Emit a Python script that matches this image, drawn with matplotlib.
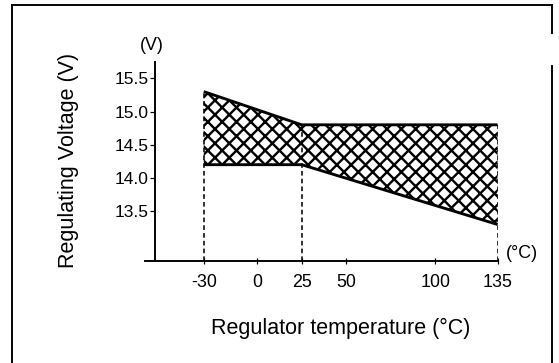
import matplotlib
matplotlib.use("Agg")
import matplotlib.pyplot as plt
from matplotlib.lines import Line2D

# regulating voltage band vs regulator temperature
temps = [-30, 25, 135]
upper_v = [15.3, 14.8, 14.8]
lower_v = [14.2, 14.2, 13.3]

x_ticks = [-30, 0, 25, 50, 100, 135]
y_ticks = [13.5, 14.0, 14.5, 15.0, 15.5]
y_tick_labels = ["13.5", "14.0", "14.5", "15.0", "15.5"]

plt.rcParams['font.family'] = ['Liberation Sans', 'DejaVu Sans']
plt.rcParams['hatch.linewidth'] = 2.0

DPI = 86
fig = plt.figure(figsize=(559 / DPI, 363 / DPI), dpi=DPI)
ax = fig.add_axes([0.2594, 0.281, 0.6306, 0.549])

ax.set_xlim(-63, 135)
ax.set_ylim(12.75, 15.75)

# cross-hatched band between the limits
ax.fill_between(temps, lower_v, upper_v, facecolor='none', edgecolor='black',
                hatch='xx', linewidth=0)
ax.plot(temps, upper_v, color='black', lw=2.4, solid_capstyle='butt')
ax.plot(temps, lower_v, color='black', lw=2.4, solid_capstyle='butt')

# dashed drop lines down to the temperature axis
for t, top in zip(temps, upper_v):
    ax.plot([t, t], [12.75, top], color='black', lw=1.3, linestyle=(0, (3, 2)))

for side in ['top', 'right']:
    ax.spines[side].set_visible(False)
ax.spines['left'].set_position(('data', -57.6))
ax.spines['left'].set_linewidth(1.6)
ax.spines['bottom'].set_linewidth(1.6)

ax.set_xticks(x_ticks)
ax.set_xticklabels([str(v) for v in x_ticks])
ax.set_yticks(y_ticks)
ax.set_yticklabels(y_tick_labels)
ax.tick_params(axis='x', direction='inout', length=5, width=1, pad=8, labelsize=15)
ax.tick_params(axis='y', direction='out', length=4, width=1, pad=1, labelsize=14.5)

ax.set_xlabel('Regulator temperature (°C)', fontsize=18)
ax.xaxis.set_label_coords(0.556, -0.336)
ax.xaxis.label.set_va('center')
ax.set_ylabel('Regulating Voltage (V)', fontsize=18)
ax.yaxis.set_label_coords(-0.218, 0.507)
ax.yaxis.label.set_va('center')

fig.text(152 / 559, 1 - 46 / 363, '(V)', fontsize=15, ha='center', va='center')
fig.text(522 / 559, 1 - 253 / 363, '(°C)', fontsize=15, ha='center', va='center')

# outer frame, open on the upper right edge
frame_kw = dict(color='black', lw=1.6, transform=fig.transFigure)
fig.add_artist(Line2D([0.0215, 0.0215], [0.0, 0.986], **frame_kw))
fig.add_artist(Line2D([0.0215, 0.9875], [0.986, 0.986], **frame_kw))
fig.add_artist(Line2D([0.9875, 0.9875], [0.986, 0.909], **frame_kw))
fig.add_artist(Line2D([0.9875, 0.9875], [0.818, 0.0], **frame_kw))

fig.savefig('out.png', dpi=DPI)
